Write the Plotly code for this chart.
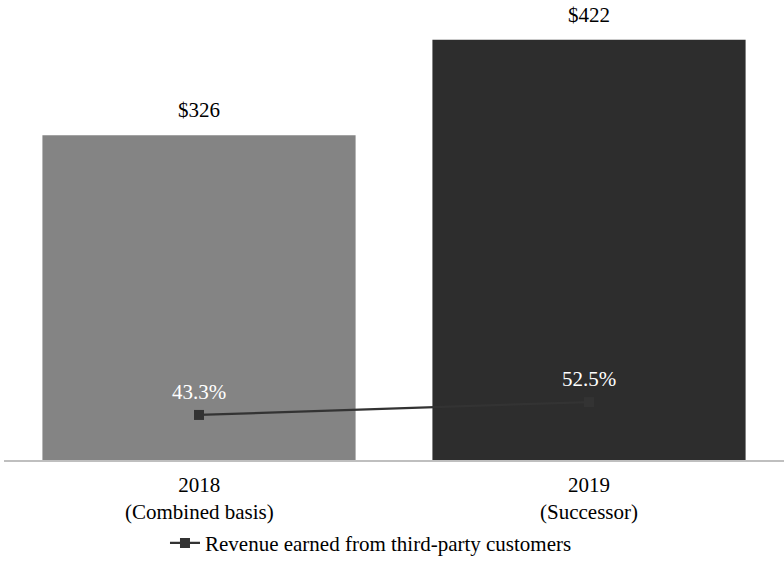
import plotly.graph_objects as go

# Revenue by period (in $ millions) and share earned from third-party customers
years = ["2018", "2019"]
bases = ["(Combined basis)", "(Successor)"]
revenue = [326, 422]
third_party_pct = [43.3, 52.5]
bar_colors = ["#848484", "#2d2d2d"]

FONT = "Liberation Serif"
TEXT_SIZE = 21

fig = go.Figure()

fig.add_trace(go.Bar(
    x=years,
    y=revenue,
    marker=dict(color=bar_colors, line=dict(width=0)),
    showlegend=False,
    hoverinfo="skip",
))

fig.add_trace(go.Scatter(
    x=years,
    y=third_party_pct,
    yaxis="y2",
    mode="lines+markers",
    name="Revenue earned from third-party customers",
    line=dict(color="#333333", width=2.2),
    marker=dict(symbol="square", size=10, color="#333333"),
))

annotations = []
# Numeric-looking category names are addressed by their index on the category axis
for i, v in enumerate(revenue):
    annotations.append(dict(
        x=i, y=v, xref="x", yref="y", text=f"${v}", showarrow=False,
        yanchor="middle", yshift=25,
        font=dict(family=FONT, size=TEXT_SIZE, color="#000000"),
    ))
for i, p in enumerate(third_party_pct):
    annotations.append(dict(
        x=i, y=p, xref="x", yref="y2", text=f"{p:.1f}%", showarrow=False,
        yanchor="middle", yshift=23,
        font=dict(family=FONT, size=TEXT_SIZE, color="#ffffff"),
    ))
# Two-line category labels under the axis
for i, (yr, b) in enumerate(zip(years, bases)):
    annotations.append(dict(
        x=i, y=0, xref="x", yref="paper", text=f"{yr}<br>{b}", showarrow=False,
        yanchor="middle", yshift=-38,
        font=dict(family=FONT, size=TEXT_SIZE, color="#000000"),
    ))

fig.update_layout(
    width=784,
    height=564,
    margin=dict(l=4, r=0, t=0, b=101),
    paper_bgcolor="#ffffff",
    plot_bgcolor="#ffffff",
    bargap=0.197,
    font=dict(family=FONT, size=TEXT_SIZE, color="#000000"),
    xaxis=dict(
        type="category",
        categoryorder="array",
        categoryarray=years,
        range=[-0.5, len(years) - 0.5],
        showticklabels=False,
        showgrid=False,
        zeroline=False,
        showline=True,
        linecolor="#bfbfbf",
        linewidth=2,
        ticks="",
    ),
    yaxis=dict(
        range=[0, 461.9],
        visible=False,
        showgrid=False,
        zeroline=False,
    ),
    yaxis2=dict(
        range=[11.2, 338.9],
        overlaying="y",
        visible=False,
        showgrid=False,
        zeroline=False,
    ),
    legend=dict(
        orientation="h",
        x=0.2064,
        xanchor="left",
        y=-0.181,
        yanchor="middle",
        font=dict(family=FONT, size=TEXT_SIZE, color="#000000"),
        bgcolor="rgba(0,0,0,0)",
    ),
    annotations=annotations,
)

fig.write_html("out.html")
